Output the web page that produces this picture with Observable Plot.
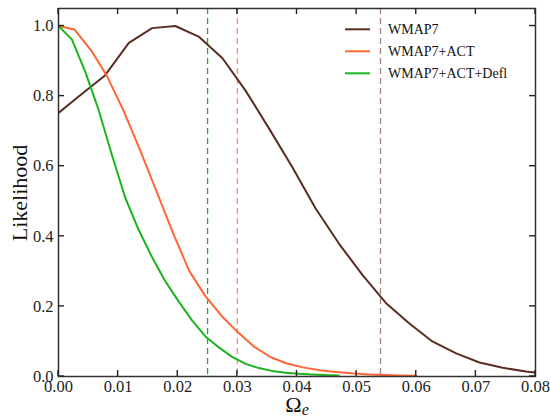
<!DOCTYPE html>
<html><head><meta charset="utf-8">
<script src="https://cdn.jsdelivr.net/npm/d3@7"></script>
<script src="https://cdn.jsdelivr.net/npm/@observablehq/plot@0.6"></script>
<style>body{margin:0;background:#fff;} #chart svg{display:block;}</style>
</head><body><div id="chart"></div>
<script>
// ---- data ----
const seriesNames = ["WMAP7", "WMAP7+ACT", "WMAP7+ACT+Defl"];
const seriesColors = ["#5a2d22", "#ff6633", "#1cb41c"];
const limitColors = ["#a08478", "#f48e6c", "#1fae1f"];
const limitValues = [0.054, 0.030, 0.025];

const wmap7X = [0, 0.0039, 0.0078, 0.0118, 0.0157, 0.0196, 0.0235, 0.0275, 0.0314, 0.0353, 0.0392, 0.0431, 0.0470, 0.0510, 0.0549, 0.0588, 0.0627, 0.0667, 0.0706, 0.0745, 0.0784, 0.0824];
const wmap7L = [0.752, 0.806, 0.859, 0.952, 0.994, 1.000, 0.970, 0.908, 0.815, 0.708, 0.598, 0.480, 0.380, 0.289, 0.210, 0.152, 0.100, 0.066, 0.040, 0.025, 0.014, 0.008];

const actX = [0, 0.0027, 0.0055, 0.0082, 0.0110, 0.0137, 0.0164, 0.0192, 0.0219, 0.0246, 0.0274, 0.0301, 0.0328, 0.0356, 0.0383, 0.0410, 0.0438, 0.0465, 0.0492, 0.0520, 0.0547, 0.0574, 0.0600];
const actL = [1.000, 0.990, 0.930, 0.855, 0.755, 0.645, 0.530, 0.410, 0.302, 0.230, 0.172, 0.126, 0.085, 0.055, 0.037, 0.026, 0.018, 0.013, 0.009, 0.006, 0.004, 0.003, 0.002];

const deflX = [0, 0.00224, 0.00448, 0.0067, 0.0090, 0.0112, 0.0134, 0.0157, 0.0179, 0.0202, 0.0224, 0.0246, 0.0269, 0.0291, 0.0314, 0.0336, 0.0358, 0.0381, 0.0403, 0.0425, 0.0448, 0.0470];
const deflL = [1.000, 0.962, 0.870, 0.762, 0.630, 0.510, 0.420, 0.340, 0.272, 0.213, 0.160, 0.115, 0.083, 0.056, 0.036, 0.024, 0.016, 0.011, 0.008, 0.006, 0.004, 0.003];

const xTicks = [0, 0.01, 0.02, 0.03, 0.04, 0.05, 0.06, 0.07, 0.08];
const yTicks = [0, 0.2, 0.4, 0.6, 0.8, 1.0];

// ---- build ----
const seriesX = [wmap7X, actX, deflX];
const seriesL = [wmap7L, actL, deflL];
const rows = seriesNames.flatMap((name, i) =>
  seriesX[i].map((x, j) => ({series: name, x, L: seriesL[i][j]})));
const limits = seriesNames.map((name, i) => ({series: name, x: limitValues[i], color: limitColors[i]}));

const font = "'Liberation Serif', 'DejaVu Serif', serif";
const W = 550, H = 419;
const mL = 58, mR = 15, mT = 8, mB = 43;
const tickLen = 6;

const plot = Plot.plot({
  width: W, height: H,
  marginLeft: mL, marginRight: mR, marginTop: mT, marginBottom: mB,
  style: {fontFamily: font, background: "#fff", color: "#222"},
  x: {domain: [0, 0.08], label: null},
  y: {domain: [0, 1.05], label: null},
  marks: [
    Plot.ruleX(limits, {x: "x", stroke: "color", strokeWidth: 1.3, strokeDasharray: "6,4"}),
    ...seriesNames.map((name, i) => Plot.line(rows.filter(d => d.series === name),
      {x: "x", y: "L", stroke: seriesColors[i], strokeWidth: 2, clip: true})),
    Plot.axisX({ticks: xTicks, tickSize: 0, tickPadding: 4, tickFormat: d3.format(".2f"), fontSize: 16.5, label: null}),
    Plot.axisY({ticks: yTicks, tickSize: 0, tickPadding: 5, tickFormat: d3.format(".1f"), fontSize: 16.5, label: null}),
    Plot.frame({stroke: "#333", strokeWidth: 1.5})
  ]
});

document.getElementById("chart").appendChild(plot);
const svg = d3.select(plot);

// inward ticks on all four sides, positioned by Plot's own scales
const xs = plot.scale("x"), ys = plot.scale("y");
const frameTop = mT, frameBottom = H - mB, frameLeft = mL, frameRight = W - mR;
const tg = svg.append("g").attr("stroke", "#222").attr("stroke-width", 1.4);
xTicks.forEach(v => {
  const px = xs.apply(v);
  tg.append("line").attr("x1", px).attr("x2", px).attr("y1", frameBottom).attr("y2", frameBottom - tickLen);
  tg.append("line").attr("x1", px).attr("x2", px).attr("y1", frameTop).attr("y2", frameTop + tickLen);
});
yTicks.forEach(v => {
  const py = ys.apply(v);
  tg.append("line").attr("x1", frameLeft).attr("x2", frameLeft + tickLen).attr("y1", py).attr("y2", py);
  tg.append("line").attr("x1", frameRight).attr("x2", frameRight - tickLen).attr("y1", py).attr("y2", py);
});

// axis titles and legend as real text
svg.append("text")
  .attr("transform", "translate(27,193) rotate(-90)")
  .attr("text-anchor", "middle")
  .attr("font-family", font).attr("font-size", 22).attr("fill", "#111")
  .text("Likelihood");

const xl = svg.append("text")
  .attr("x", 297).attr("y", 411.5)
  .attr("text-anchor", "middle")
  .attr("font-family", font).attr("font-size", 22).attr("fill", "#111");
xl.append("tspan").text("Ω");
xl.append("tspan").attr("font-style", "italic").attr("font-size", 16).attr("dy", 3.5).text("e");

const lg = svg.append("g");
seriesNames.forEach((name, i) => {
  const y = 29.3 + i * 22;
  lg.append("line").attr("x1", 345).attr("x2", 370).attr("y1", y).attr("y2", y)
    .attr("stroke", seriesColors[i]).attr("stroke-width", 2);
  lg.append("text").attr("x", 388).attr("y", y + 4.8)
    .attr("text-anchor", "start")
    .attr("font-family", font).attr("font-size", 14).attr("fill", "#111")
    .text(name);
});
</script>
</body></html>
